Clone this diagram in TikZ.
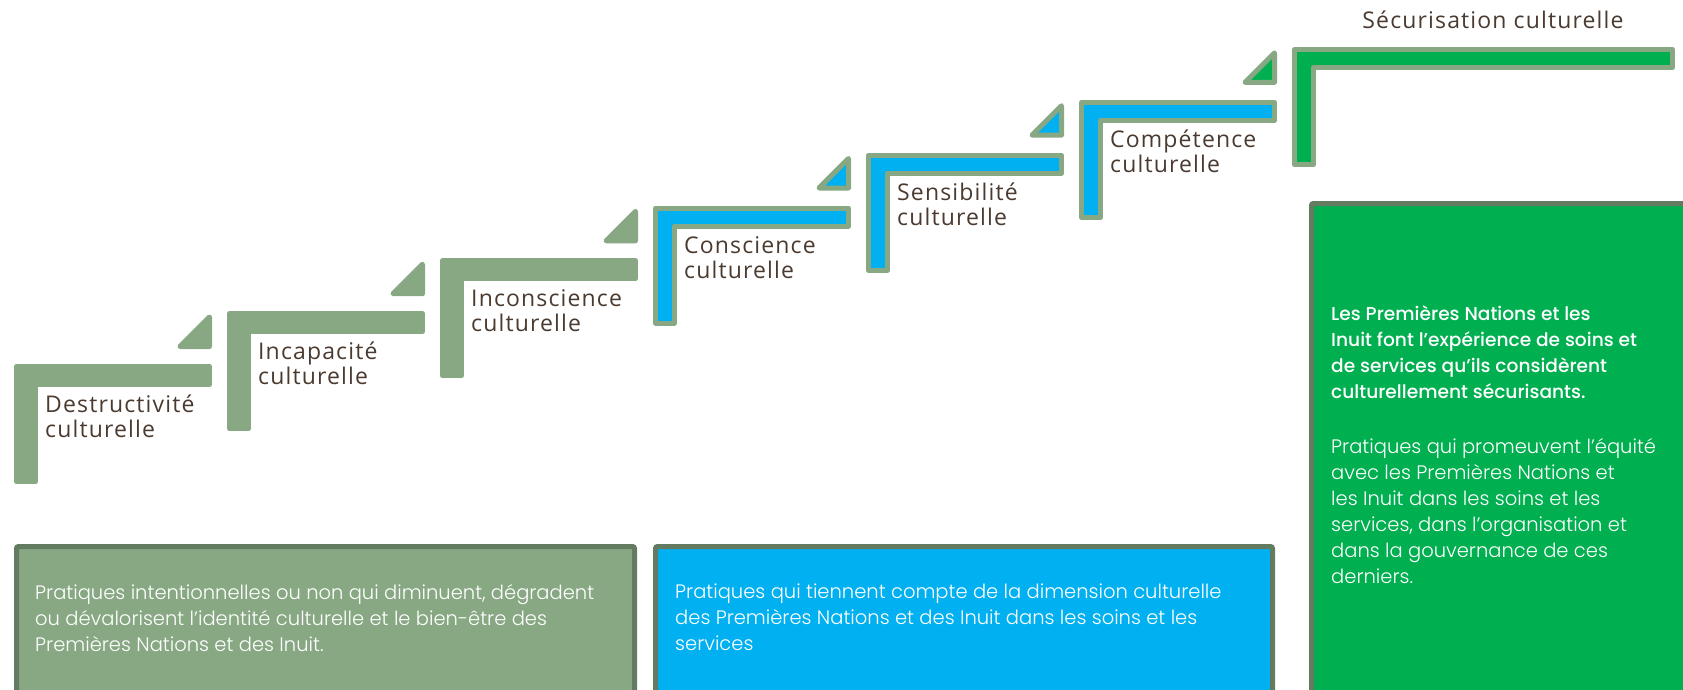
\documentclass[tikz,border=0pt]{standalone}
\usepackage{fontspec}
\setmainfont{Open Sans}
\newfontfamily\labelfont{Open Sans}[LetterSpace=5]
\newfontfamily\handfont{Poppins}[UprightFont=* Light, BoldFont=* Medium]

\definecolor{sage}{RGB}{135,168,131}
\definecolor{frame}{RGB}{98,123,97}
\definecolor{skyblue}{RGB}{0,176,240}
\definecolor{leafgreen}{RGB}{0,175,80}
\definecolor{ink}{RGB}{75,58,47}

\tikzset{
  stepbar/.style={draw=sage, line width=5pt, line join=round},
  stepmark/.style={draw=sage, line width=5pt, line join=round},
  steplabel/.style={anchor=base west, inner sep=0pt, align=left, text=ink,
    font=\labelfont\fontsize{23}{25}\selectfont},
  panel/.style={draw=frame, line width=5pt, rounded corners=2pt},
  paneltext/.style={anchor=base west, inner sep=0pt, align=left, text=white,
    font=\handfont\fontsize{19.5}{26}\selectfont},
}

% L-shaped step: left, top, right (outer edges); drawn inset by half the stroke
\newcommand\stairstep[4]{%
  \draw[stepbar, fill=#4]
    ({#1+2.5},{#2+2.5}) -- ({#3-2.5},{#2+2.5}) -- ({#3-2.5},{#2+20.5})
    -- ({#1+21.5},{#2+20.5}) -- ({#1+21.5},{#2+117.5}) -- ({#1+2.5},{#2+117.5}) -- cycle;}
% small triangle marker at the right end of a step: right edge, step top
\newcommand\stairmark[3]{%
  \draw[stepmark, fill=#3]
    ({#1-32},{#2-17.5}) -- ({#1-2.5},{#2-17.5}) -- ({#1-2.5},{#2-47}) -- cycle;}

\begin{document}
\begin{tikzpicture}[x=1pt, y=-1pt]
\useasboundingbox (0,0) rectangle (1683,690);
\clip (0,0) rectangle (1683,690);

% staircase
\foreach \i/\fc/\tc in {0/sage/sage, 1/sage/sage, 2/sage/sage,
                        3/skyblue/skyblue, 4/skyblue/skyblue, 5/skyblue/leafgreen}{
  \pgfmathsetmacro\L{14+213*\i}
  \pgfmathsetmacro\T{364-52.833*\i}
  \pgfmathsetmacro\R{\L+198}
  \stairstep{\L}{\T}{\R}{\fc}
  \stairmark{\R}{\T}{\tc}
}
\stairstep{1292}{47}{1675}{leafgreen}

% step labels (placed by the baseline of their last line)
\node[steplabel] (destructivite) at (45,437)    {Destructivité\\culturelle};
\node[steplabel] (incapacite)    at (258,384.2) {Incapacité\\culturelle};
\node[steplabel] (inconscience)  at (471,331.3) {Inconscience\\culturelle};
\node[steplabel] (conscience)    at (684,278.5) {Conscience\\culturelle};
\node[steplabel] (sensibilite)   at (897,225.7) {Sensibilité\\culturelle};
\node[steplabel] (competence)    at (1110,172.8) {Compétence\\culturelle};
\node[steplabel, anchor=base] (securisation) at (1493,29) {Sécurisation culturelle};

% description panels
\draw[panel, fill=sage]      (16.5,546.5) rectangle (634.5,720);
\draw[panel, fill=skyblue]   (655.5,546.5) rectangle (1272.5,720);
\draw[panel, fill=leafgreen] (1311.5,203.5) rectangle (1720,720);

\node[paneltext] (destructive-text) at (35,651)
  {Pratiques intentionnelles ou non qui diminuent, dégradent\\
   ou dévalorisent l’identité culturelle et le bien-être des\\
   Premières Nations et des Inuit.};
\node[paneltext] (aware-text) at (675,650)
  {Pratiques qui tiennent compte de la dimension culturelle\\
   des Premières Nations et des Inuit dans les soins et les\\
   services};
\node[paneltext, font=\handfont\bfseries\fontsize{18.6}{26}\selectfont] (safe-head) at (1331,398.7)
  {Les Premières Nations et les\\
   Inuit font l’expérience de soins et\\
   de services qu’ils considèrent\\
   culturellement sécurisants.};
\node[paneltext] (safe-text) at (1331,583)
  {Pratiques qui promeuvent l’équité\\
   avec les Premières Nations et\\
   les Inuit dans les soins et les\\
   services, dans l’organisation et\\
   dans la gouvernance de ces\\
   derniers.};
\end{tikzpicture}
\end{document}
